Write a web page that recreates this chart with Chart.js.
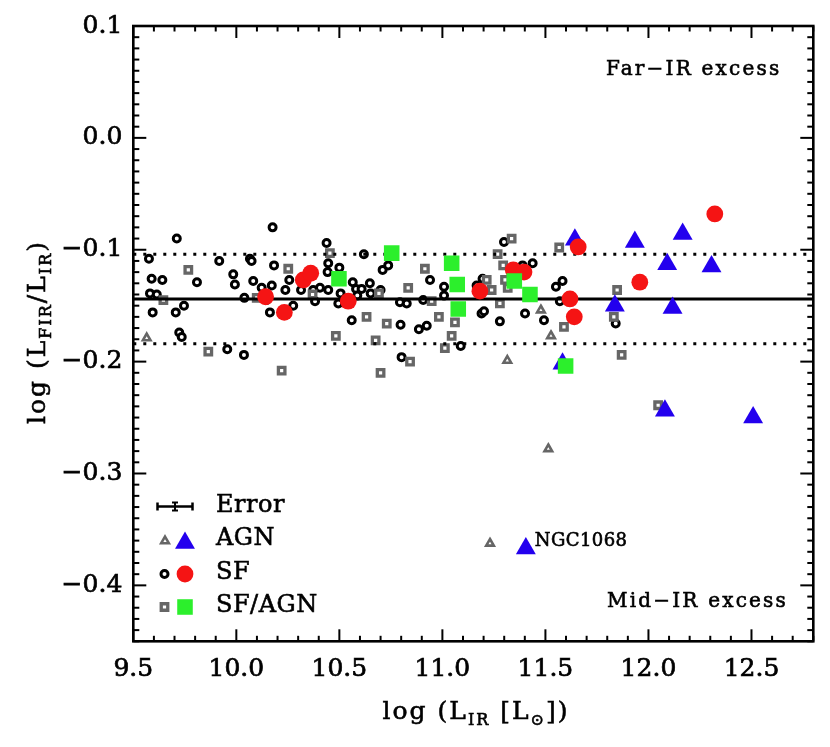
<!DOCTYPE html>
<html><head><meta charset="utf-8">
<script src="https://cdn.jsdelivr.net/npm/chart.js@4.4.1/dist/chart.umd.min.js"></script>
<style>html,body{margin:0;padding:0;background:#fff;}canvas{display:block;}</style>
</head><body>
<canvas id="c" width="830" height="747"></canvas>
<script>
// ---- axis definitions ----
const xTicks = [9.5, 10.0, 10.5, 11.0, 11.5, 12.0, 12.5];
const yTicks = [0.1, 0.0, -0.1, -0.2, -0.3, -0.4];
const xRange = [9.5, 12.8];
const yRange = [-0.45, 0.1];
// ---- relation: mean and scatter ----
const relMean = -0.144;
const relScatter = 0.04;
// ---- data: [log L_IR, log(L_FIR/L_IR)] ----
const sfSmall = [[9.576,-0.108],[9.589,-0.126],[9.581,-0.139],[9.614,-0.140],[9.594,-0.156],[9.641,-0.127],[9.711,-0.090],[9.706,-0.156],[9.746,-0.150],[9.723,-0.174],[9.735,-0.178],[9.809,-0.129],[9.917,-0.110],[9.985,-0.122],[9.993,-0.131],[9.956,-0.189],[10.037,-0.194],[10.039,-0.143],[10.066,-0.108],[10.074,-0.110],[10.082,-0.128],[10.123,-0.134],[10.147,-0.145],[10.176,-0.080],[10.183,-0.114],[10.172,-0.132],[10.163,-0.156],[10.257,-0.127],[10.238,-0.136],[10.276,-0.150],[10.314,-0.136],[10.373,-0.136],[10.382,-0.146],[10.406,-0.134],[10.438,-0.094],[10.446,-0.112],[10.443,-0.120],[10.446,-0.136],[10.500,-0.116],[10.506,-0.139],[10.495,-0.148],[10.565,-0.129],[10.581,-0.135],[10.560,-0.163],[10.608,-0.135],[10.587,-0.141],[10.648,-0.130],[10.652,-0.139],[10.700,-0.136],[10.619,-0.104],[10.710,-0.118],[10.737,-0.114],[10.794,-0.147],[10.827,-0.148],[10.797,-0.167],[10.886,-0.171],[10.924,-0.168],[10.907,-0.145],[10.940,-0.127],[11.008,-0.133],[11.008,-0.141],[10.802,-0.196],[11.089,-0.186],[11.195,-0.126],[11.166,-0.132],[11.190,-0.157],[11.202,-0.155],[11.279,-0.164],[11.299,-0.093],[11.389,-0.114],[11.438,-0.112],[11.401,-0.157],[11.493,-0.163],[11.551,-0.133],[11.583,-0.128],[11.570,-0.146],[11.841,-0.166]];
const mixSmall = [[9.485,-0.114],[9.767,-0.118],[9.646,-0.145],[9.864,-0.191],[10.252,-0.117],[10.370,-0.140],[10.220,-0.208],[10.454,-0.103],[10.483,-0.177],[10.099,-0.143],[10.632,-0.160],[10.730,-0.166],[10.676,-0.181],[10.700,-0.210],[10.834,-0.134],[10.915,-0.117],[10.948,-0.146],[10.983,-0.160],[11.061,-0.165],[11.045,-0.177],[11.012,-0.188],[10.843,-0.200],[10.692,-0.139],[11.215,-0.127],[11.239,-0.136],[11.279,-0.148],[11.268,-0.104],[11.295,-0.114],[11.304,-0.127],[11.317,-0.134],[11.336,-0.090],[11.567,-0.098],[11.590,-0.169],[11.848,-0.136],[11.832,-0.160],[11.870,-0.194],[12.047,-0.239]];
const agnSmall = [[9.565,-0.179],[11.478,-0.154],[11.527,-0.177],[11.315,-0.199],[11.514,-0.278],[11.231,-0.3625]];
const sfBig = [[10.142,-0.142],[10.233,-0.156],[10.325,-0.127],[10.361,-0.121],[10.543,-0.146],[11.182,-0.137],[11.344,-0.118],[11.396,-0.120],[11.619,-0.144],[11.640,-0.160],[11.659,-0.0975],[11.958,-0.129],[12.322,-0.068]];
const mixBig = [[10.498,-0.126],[10.754,-0.103],[11.045,-0.112],[11.072,-0.131],[11.077,-0.153],[11.349,-0.128],[11.425,-0.140],[11.598,-0.204]];
const agnBig = [[11.643,-0.091],[11.583,-0.202],[11.934,-0.093],[12.166,-0.086],[12.091,-0.113],[12.306,-0.115],[11.837,-0.150],[12.117,-0.152],[12.080,-0.244],[12.508,-0.250],[11.405,-0.367]];
const namedSource = {name: 'NGC1068', x: 11.405, y: -0.367};
const legendRows = ['Error', 'AGN', 'SF', 'SF/AGN'];

const FONT = '"DejaVu Serif", serif';
const toXY = a => a.map(p => ({x: p[0], y: p[1]}));
const hLine = v => [{x: xRange[0], y: v}, {x: xRange[1], y: v}];
const fmt = v => (v < -1e-9 ? '\u2212' : '') + Math.abs(v).toFixed(1);

const COL = {grey: '#666666', red: '#f51414', blue: '#2300ee', green: '#2cef2c'};
const SYM = {
  sfSmall:  {pointStyle: 'circle',   radius: 3.5, borderWidth: 3.0, borderColor: '#000', backgroundColor: '#fff'},
  mixSmall: {pointStyle: 'rect',     radius: 4.6, borderWidth: 3.3, borderColor: COL.grey, backgroundColor: '#fff'},
  agnSmall: {pointStyle: 'triangle', radius: 4.4, borderWidth: 2.6, borderColor: COL.grey, backgroundColor: '#fff'},
  sfBig:    {pointStyle: 'circle',   radius: 8.4, borderWidth: 0, borderColor: COL.red, backgroundColor: COL.red},
  mixBig:   {pointStyle: 'rect',     radius: 11,  borderWidth: 0, borderColor: COL.green, backgroundColor: COL.green},
  agnBig:   {pointStyle: 'triangle', radius: 11.5, borderWidth: 0, borderColor: COL.blue, backgroundColor: COL.blue}
};
function ds(label, arr, sym, order) {
  return {type: 'scatter', label, data: toXY(arr), order,
    pointStyle: sym.pointStyle, pointRadius: sym.radius, pointHoverRadius: sym.radius,
    pointBorderWidth: sym.borderWidth, pointBorderColor: sym.borderColor,
    pointBackgroundColor: sym.backgroundColor, showLine: false};
}

function drawSym(ctx, sym, x, y) {
  const r = sym.radius;
  ctx.beginPath();
  if (sym.pointStyle === 'circle') ctx.arc(x, y, r, 0, Math.PI * 2);
  else if (sym.pointStyle === 'rect') { const s = Math.SQRT1_2 * r; ctx.rect(x - s, y - s, 2 * s, 2 * s); }
  else { for (let i = 0; i < 3; i++) { const a = i * 2 * Math.PI / 3; const px = x + Math.sin(a) * r, py = y - Math.cos(a) * r; i ? ctx.lineTo(px, py) : ctx.moveTo(px, py); } ctx.closePath(); }
  ctx.fillStyle = sym.backgroundColor; ctx.fill();
  if (sym.borderWidth > 0) { ctx.lineWidth = sym.borderWidth; ctx.strokeStyle = sym.borderColor; ctx.stroke(); }
}

function setSpacing(ctx, px) { try { ctx.letterSpacing = px + 'px'; } catch (e) {} }
function boldText(ctx, t, x, y) { ctx.fillText(t, x, y); ctx.lineWidth = 0.6; ctx.strokeStyle = '#000'; ctx.strokeText(t, x, y); }

function mixedText(ctx, parts, cx, baseY, mainSize, subSize, subDy, spacing) {
  setSpacing(ctx, spacing);
  const widths = parts.map(p => { ctx.font = (p.sub ? subSize : mainSize) + 'px ' + FONT; return ctx.measureText(p.t).width; });
  const total = widths.reduce((a, b) => a + b, 0);
  let x = cx - total / 2;
  parts.forEach((p, i) => {
    ctx.font = (p.sub ? subSize : mainSize) + 'px ' + FONT;
    boldText(ctx, p.t, x, baseY + (p.sub ? subDy : 0));
    x += widths[i];
  });
}

const decor = {
  id: 'decor',
  afterDatasetsDraw(chart) {
    const {ctx, chartArea: a, scales: {x, y}} = chart;
    ctx.save();
    ctx.strokeStyle = '#000'; ctx.lineCap = 'butt';
    const seg = (x1, y1, x2, y2) => { ctx.beginPath(); ctx.moveTo(x1, y1); ctx.lineTo(x2, y2); ctx.stroke(); };
    // inward ticks on all sides
    ctx.lineWidth = 2;
    for (let k = Math.round(xRange[0] * 10); k <= Math.round(xRange[1] * 10); k++) {
      const px = x.getPixelForValue(k / 10); const L = (k % 5 === 0) ? 12 : 5.5;
      seg(px, a.bottom, px, a.bottom - L); seg(px, a.top, px, a.top + L);
    }
    for (let k = Math.round(yRange[0] * 100); k <= Math.round(yRange[1] * 100); k++) {
      const py = y.getPixelForValue(k / 100); const L = (k % 10 === 0) ? 13 : 6;
      seg(a.left, py, a.left + L, py); seg(a.right, py, a.right - L, py);
    }
    ctx.lineWidth = 2.6;
    ctx.strokeRect(a.left, a.top, a.right - a.left, a.bottom - a.top);

    ctx.fillStyle = '#000'; ctx.textAlign = 'left'; ctx.textBaseline = 'alphabetic';
    // region annotations
    ctx.font = '20px ' + FONT;
    setSpacing(ctx, 2.2);
    boldText(ctx, 'Far\u2212IR excess', 606, 75);
    boldText(ctx, 'Mid\u2212IR excess', 607, 607);
    // named source label
    ctx.font = '18px ' + FONT;
    setSpacing(ctx, 0.4);
    boldText(ctx, namedSource.name, x.getPixelForValue(namedSource.x) + 9, y.getPixelForValue(namedSource.y) - 2);

    // legend
    setSpacing(ctx, 0.5);
    ctx.font = '24px ' + FONT; ctx.textBaseline = 'middle';
    const rowsY = [506.5, 540, 574, 607];
    legendRows.forEach((t, i) => boldText(ctx, t, 216, rowsY[i] - 1));
    // error bar sample
    ctx.lineWidth = 2.5; ctx.strokeStyle = '#000';
    const ey = rowsY[0];
    seg(157, ey, 193, ey); seg(157.5, ey - 4, 157.5, ey + 4); seg(192.5, ey - 4, 192.5, ey + 4);
    ctx.lineWidth = 2;
    seg(175, ey - 4, 175, ey + 4); seg(172, ey - 4, 178, ey - 4); seg(172, ey + 4, 178, ey + 4);
    drawSym(ctx, SYM.agnSmall, 165, rowsY[1] + 1);
    drawSym(ctx, SYM.agnBig, 185, rowsY[1] + 3);
    drawSym(ctx, SYM.sfSmall, 164.5, rowsY[2]);
    drawSym(ctx, SYM.sfBig, 185, rowsY[2]);
    drawSym(ctx, SYM.mixSmall, 164.5, rowsY[3]);
    drawSym(ctx, SYM.mixBig, 185, rowsY[3]);

    // axis titles with subscripts
    ctx.fillStyle = '#000'; ctx.textBaseline = 'alphabetic'; ctx.textAlign = 'left';
    mixedText(ctx, [{t: 'log (L'}, {t: 'IR', sub: true}, {t: ' [L'}, {t: '\u2299', sub: true}, {t: '])'}], 476, 719, 25, 16, 6, 2);
    ctx.save();
    ctx.translate(45, 332); ctx.rotate(-Math.PI / 2);
    mixedText(ctx, [{t: 'log (L'}, {t: 'FIR', sub: true}, {t: '/L'}, {t: 'IR', sub: true}, {t: ')'}], 0, 0, 25, 16, 6, 2);
    ctx.restore();
    ctx.restore();
  }
};

new Chart(document.getElementById('c'), {
  data: {
    datasets: [
      ds('SF/AGN', mixBig, SYM.mixBig, 1),
      ds('SF', sfBig, SYM.sfBig, 2),
      ds('AGN', agnBig, SYM.agnBig, 3),
      {type: 'line', label: 'mean', data: hLine(relMean), borderColor: '#000', borderWidth: 3, pointRadius: 0, order: 4},
      {type: 'line', label: '+scatter', data: hLine(relMean + relScatter), borderColor: '#000', borderWidth: 3, borderDash: [3, 7], pointRadius: 0, order: 4},
      {type: 'line', label: '-scatter', data: hLine(relMean - relScatter), borderColor: '#000', borderWidth: 3, borderDash: [3, 7], pointRadius: 0, order: 4},
      ds('AGN small', agnSmall, SYM.agnSmall, 5),
      ds('SF/AGN small', mixSmall, SYM.mixSmall, 6),
      ds('SF small', sfSmall, SYM.sfSmall, 7)
    ]
  },
  options: {
    responsive: false, animation: false, devicePixelRatio: 1,
    layout: {padding: {top: 25.3, right: 16.7, left: 0, bottom: 0}},
    plugins: {legend: {display: false}, tooltip: {enabled: false}},
    scales: {
      x: {type: 'linear', min: xRange[0], max: xRange[1], position: 'bottom',
        afterFit: s => { s.height = 747 - 641.3; },
        afterBuildTicks: s => { s.ticks = xTicks.map(v => ({value: v})); },
        grid: {display: false, drawTicks: false}, border: {display: false},
        ticks: {color: '#000', font: {family: FONT, size: 25}, padding: 13, maxRotation: 0, autoSkip: false,
          textStrokeColor: '#000', textStrokeWidth: 0.7, callback: v => fmt(v)}},
      y: {type: 'linear', min: yRange[0], max: yRange[1], position: 'left',
        afterFit: s => { s.width = 133.3; },
        afterBuildTicks: s => { s.ticks = yTicks.map(v => ({value: v})); },
        grid: {display: false, drawTicks: false}, border: {display: false},
        ticks: {color: '#000', font: {family: FONT, size: 25}, padding: 11, autoSkip: false,
          textStrokeColor: '#000', textStrokeWidth: 0.7, callback: v => fmt(v)}}
    }
  },
  plugins: [decor]
});
</script>
</body></html>
